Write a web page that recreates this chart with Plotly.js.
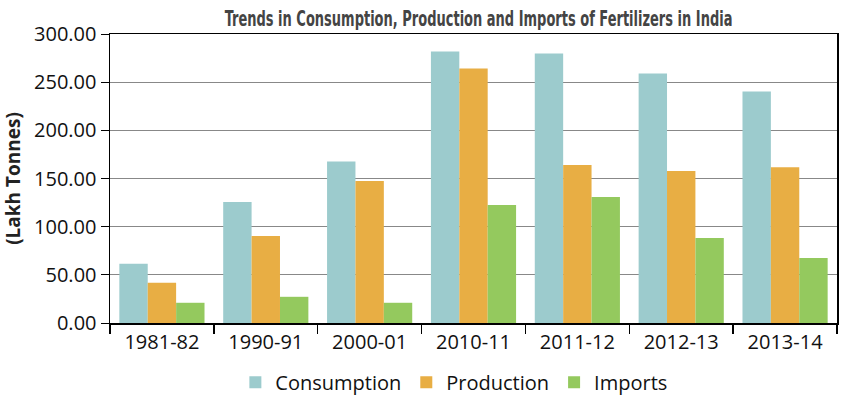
<!DOCTYPE html>
<html>
<head>
<meta charset="utf-8">
<script src="https://cdn.plot.ly/plotly-3.0.1.min.js"></script>
<style>html,body{margin:0;padding:0;background:#fff;}#chart{width:850px;height:396px;}</style>
</head>
<body>
<div id="chart"></div>
<script>
const years = ["1981-82", "1990-91", "2000-01", "2010-11", "2011-12", "2012-13", "2013-14"];
const consumption = [61.4, 125.6, 167.7, 281.9, 279.8, 259.1, 240.4];
const production = [41.7, 90.4, 147.3, 264.3, 163.9, 157.7, 161.8];
const imports = [21.0, 27.2, 21.0, 122.5, 130.7, 88.3, 67.6];
const yTicks = [0, 50, 100, 150, 200, 250, 300];

const tickFont = {family: "Open Sans, Noto Sans, sans-serif", size: 20, color: "#111"};

const traces = [
  {name: "Consumption", x: years, y: consumption, type: "bar", marker: {color: "#9CCBCD"}},
  {name: "Production", x: years, y: production, type: "bar", marker: {color: "#E8AE44"}},
  {name: "Imports", x: years, y: imports, type: "bar", marker: {color: "#94C95E"}}
];

const layout = {
  width: 850, height: 396,
  margin: {l: 110, r: 13, t: 34, b: 73},
  paper_bgcolor: "#fff", plot_bgcolor: "#fff",
  barmode: "group", bargap: 0.18, bargroupgap: 0,
  title: {
    text: "<b>Trends in Consumption, Production and Imports of Fertilizers in India</b>",
    font: {family: "DejaVu Sans Condensed, sans-serif", size: 16, color: "#444"},
    xref: "paper", x: 0.507, xanchor: "center", yref: "container", y: 0.955, yanchor: "middle"
  },
  xaxis: {
    type: "category", automargin: false,
    showline: true, linecolor: "#000", linewidth: 1.5, mirror: true,
    ticks: "outside", tickson: "boundaries", ticklen: 9, tickwidth: 1.5, tickcolor: "#000",
    tickfont: tickFont, showgrid: false, zeroline: false
  },
  yaxis: {
    range: [0, 300], tickvals: yTicks, tickformat: ".2f", automargin: false,
    showline: true, linecolor: "#000", linewidth: 1.5, mirror: true,
    ticks: "outside", ticklen: 8, tickwidth: 1, tickcolor: "#000",
    tickfont: tickFont,
    showgrid: true, gridcolor: "#888", gridwidth: 1.2, zeroline: false,
    title: {text: "<b>(Lakh Tonnes)</b>", font: {family: "Open Sans, Noto Sans, sans-serif", size: 19, color: "#222"}, standoff: 12}
  },
  showlegend: true,
  legend: {
    orientation: "h", x: 0.473, xanchor: "center", yref: "container", y: 0.035, yanchor: "middle",
    font: {family: "Open Sans, Noto Sans, sans-serif", size: 20, color: "#111"},
    itemsizing: "constant", traceorder: "normal"
  }
};

const gd = document.getElementById("chart");
function shapeTitle() {
  const t = gd.querySelector(".gtitle");
  if (!t || t.getAttribute("data-shaped")) return;
  const bb = t.getBBox();
  const cx = bb.x + bb.width / 2;
  const cy = bb.y + bb.height / 2;
  const sx = 508 / bb.width;
  const sy = 1.28;
  const targetCy = 19;
  t.setAttribute("transform",
    "translate(" + cx + "," + targetCy + ") scale(" + sx + "," + sy + ") translate(" + (-cx) + "," + (-cy) + ")");
  t.setAttribute("data-shaped", "1");
}
Plotly.newPlot(gd, traces, layout, {displayModeBar: false, staticPlot: true}).then(shapeTitle);
</script>
</body>
</html>
